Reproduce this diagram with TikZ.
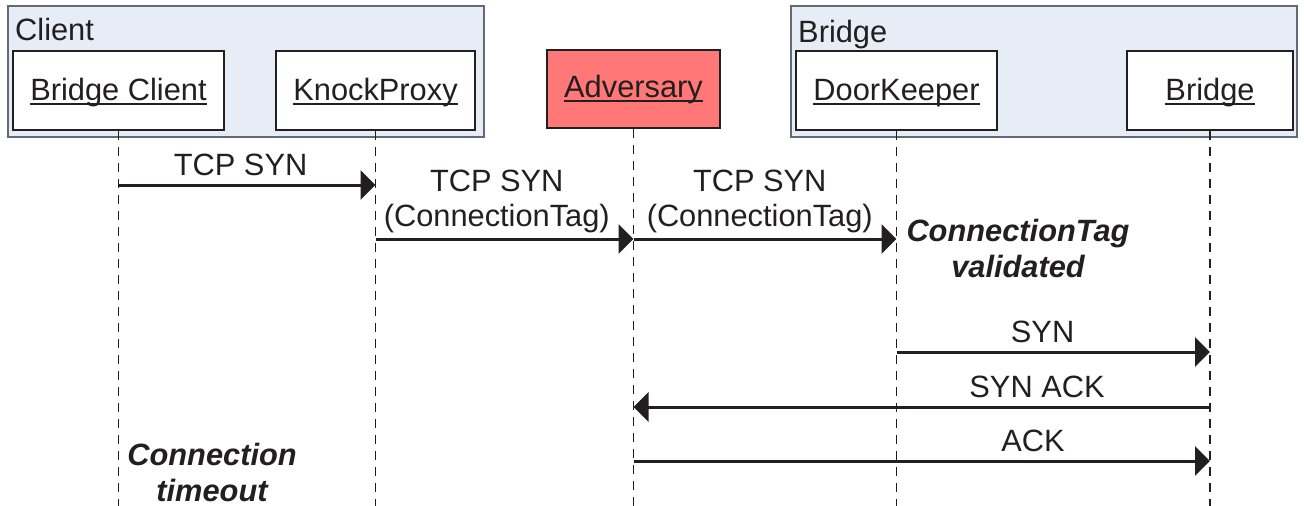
\documentclass[tikz,border=0pt]{standalone}
\usepackage{fontspec}
\setmainfont{Liberation Sans}
\usetikzlibrary{arrows.meta}
\definecolor{grpfill}{RGB}{230,237,247}
\definecolor{grpline}{RGB}{100,105,118}
\definecolor{advfill}{RGB}{255,119,119}
\definecolor{ink}{RGB}{35,31,32}
\newcommand{\myul}[1]{\setbox0=\hbox{#1}\hbox{\rlap{\smash{\vrule width\wd0 height -2.5pt depth 4.6pt}}\box0}}
\tikzset{
  grp/.style={draw=grpline, fill=grpfill, line width=1.3pt, inner sep=0pt},
  obj/.style={draw=ink, fill=white, line width=1.3pt, inner sep=0pt, text height=24pt, text depth=5pt, font=\fontsize{30.8}{36}\selectfont, text=ink},
  grplab/.style={anchor=base west, inner sep=0pt, font=\fontsize{30.8}{36}\selectfont, text=ink},
  life/.style={draw=ink, line width=1.3pt, dash pattern=on 9pt off 7pt},
  msg/.style={draw=ink, line width=3pt, -{Triangle[length=15pt,width=29pt]}},
  lab/.style={anchor=base, yshift=10pt, inner sep=0pt, font=\fontsize{30.8}{35}\selectfont, text=ink},
  lab2/.style={anchor=south, yshift=5pt, inner sep=0pt, align=center, font=\fontsize{30.8}{35}\selectfont, text=ink},
  note/.style={inner sep=0pt, align=center, font=\fontsize{30.8}{36}\selectfont\bfseries\itshape, text=ink}
}
\begin{document}
\begin{tikzpicture}[x=1pt,y=-1pt]
\useasboundingbox (0,0) rectangle (1304,506);
% groups
\node[grp, minimum width=476pt, minimum height=131pt] (client) at (246,71.5) {};
\node[grplab] (clientlab) at (15,40) {Client};
\node[grp, minimum width=506pt, minimum height=131pt] (bridgegrp) at (1044,71.5) {};
\node[grplab] (bridgelab) at (798,42) {Bridge};
% objects
\node[obj, minimum width=211pt, minimum height=79pt] (bc) at (118.5,90.5) {\myul{Bridge Client}};
\node[obj, minimum width=199pt, minimum height=79pt] (kp) at (375.5,90.5) {\myul{KnockProxy}};
\node[obj, fill=advfill, text depth=8pt, minimum width=173pt, minimum height=78pt] (adv) at (633.5,89) {\myul{Adversary}};
\node[obj, minimum width=201pt, minimum height=79pt] (dk) at (896.5,90.5) {\myul{DoorKeeper}};
\node[obj, minimum width=166pt, minimum height=79pt] (br) at (1210,90.5) {\myul{Bridge}};
% lifelines
\coordinate (bottom) at (0,506);
\foreach \o in {bc,kp,adv,dk,br}{
  \draw[life] (\o.south) -- (\o.south |- bottom);
}
% rows
\coordinate (r1) at (0,185);
\coordinate (r2) at (0,239);
\coordinate (r3) at (0,352);
\coordinate (r4) at (0,407);
\coordinate (r5) at (0,461);
% messages
\draw[msg] (bc |- r1) -- node[lab, pos=0.475] {TCP SYN} (kp |- r1);
\draw[msg] (kp |- r2) -- node[lab2, pos=0.47] {TCP SYN\\(ConnectionTag)} (adv |- r2);
\draw[msg] (adv |- r2) -- node[lab2, pos=0.48] {TCP SYN\\(ConnectionTag)} (dk |- r2);
\draw[msg] (dk |- r3) -- node[lab, pos=0.466] {SYN} (br |- r3);
\draw[msg] (br |- r4) -- node[lab, pos=0.30] {SYN ACK} (adv |- r4);
\draw[msg] (adv |- r5) -- node[lab, pos=0.693] {ACK} (br |- r5);
% notes
\node[note] (validated) at (1018,248) {ConnectionTag\\validated};
\node[note] (timeout) at (212,472) {Connection\\timeout};
\end{tikzpicture}
\end{document}
